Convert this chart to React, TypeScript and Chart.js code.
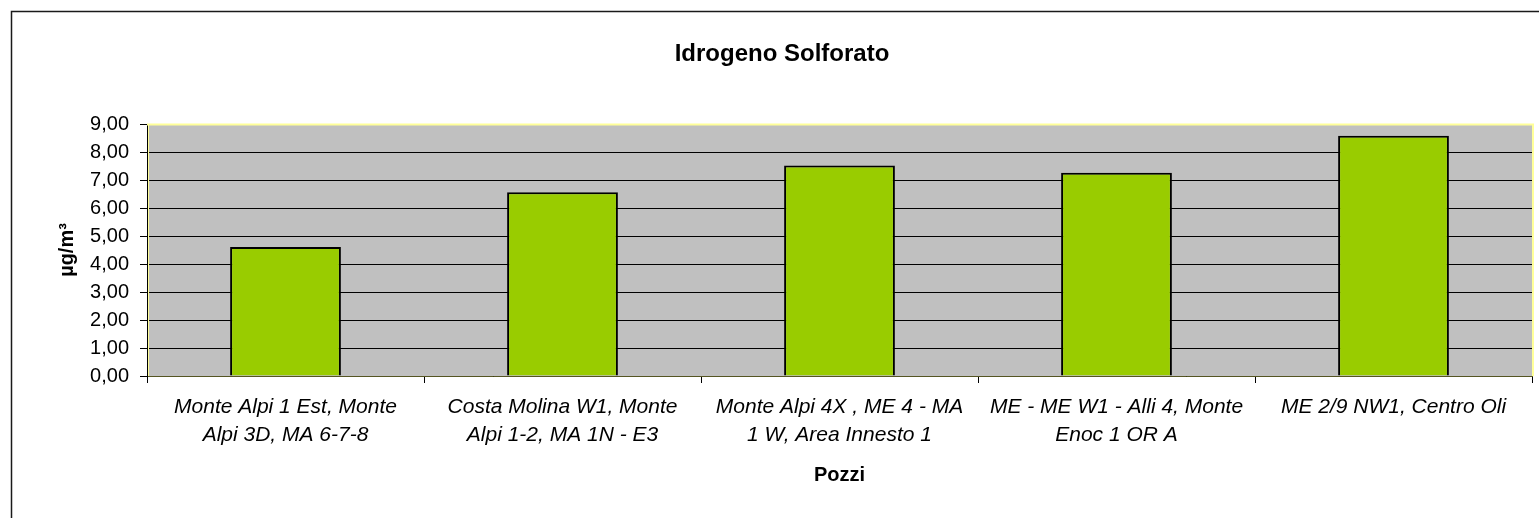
import React, { useEffect, useRef } from "react";
import { Chart, registerables } from "chart.js";

Chart.register(...registerables);

const chartTitle = "Idrogeno Solforato";
const xAxisTitle = "Pozzi";
const yAxisTitle = "µg/m³";

const categories: string[][] = [
  ["Monte Alpi 1 Est, Monte", "Alpi 3D, MA 6-7-8"],
  ["Costa Molina W1, Monte", "Alpi 1-2, MA 1N - E3"],
  ["Monte Alpi 4X , ME 4 - MA", "1 W, Area Innesto 1"],
  ["ME - ME W1 - Alli 4, Monte", "Enoc 1 OR A"],
  ["ME 2/9 NW1, Centro Oli"],
];

const values: number[] = [4.61, 6.56, 7.52, 7.26, 8.58];

const yMin = 0;
const yMax = 9;
const yStep = 1;

const FONT = "'Liberation Sans', Arial, sans-serif";
const W = 1539;
const H = 518;

const decor = {
  id: "decor",
  beforeDraw(chart: any) {
    const { ctx, chartArea: a } = chart;
    ctx.save();
    ctx.fillStyle = "#ffffff";
    ctx.fillRect(0, 0, chart.width, chart.height);
    ctx.fillStyle = "#C0C0C0";
    ctx.fillRect(a.left, a.top, a.right - a.left, a.bottom - a.top);
    ctx.strokeStyle = "#1a1a1a";
    ctx.lineWidth = 1.5;
    ctx.beginPath();
    ctx.moveTo(11.5, chart.height + 10);
    ctx.lineTo(11.5, 11.5);
    ctx.lineTo(chart.width + 10, 11.5);
    ctx.stroke();
    ctx.restore();
  },
  afterDraw(chart: any) {
    const { ctx, chartArea: a } = chart;
    ctx.save();
    ctx.strokeStyle = "#FFFF99";
    ctx.lineWidth = 2;
    ctx.beginPath();
    ctx.moveTo(a.left, a.top + 0.5);
    ctx.lineTo(a.right + 1, a.top + 0.5);
    ctx.lineTo(a.right + 1, a.bottom);
    ctx.stroke();
    ctx.lineWidth = 1;
    ctx.beginPath();
    ctx.moveTo(a.left + 1.5, a.top);
    ctx.lineTo(a.left + 1.5, a.bottom);
    ctx.stroke();
    ctx.restore();
  },
};

export default function App() {
  const ref = useRef<HTMLCanvasElement | null>(null);

  useEffect(() => {
    if (!ref.current) return;
    const chart = new Chart(ref.current, {
      type: "bar",
      data: {
        labels: categories,
        datasets: [
          {
            data: values,
            backgroundColor: "#99CC00",
            borderColor: "#000000",
            borderWidth: 2,
            categoryPercentage: 1,
            barPercentage: 0.4,
          },
        ],
      },
      options: {
        responsive: false,
        animation: false,
        devicePixelRatio: 1,
        color: "#000",
        layout: { padding: { left: 32, right: 7, top: 0, bottom: 0 } },
        plugins: {
          legend: { display: false },
          tooltip: { enabled: false },
          title: {
            display: true,
            text: chartTitle,
            color: "#000",
            font: { family: FONT, size: 24, weight: "bold", lineHeight: 1.2 },
            padding: { top: 39.6, bottom: 55.6 },
          },
        },
        scales: {
          x: {
            offset: true,
            grid: {
              offset: true,
              drawOnChartArea: false,
              drawTicks: true,
              tickLength: 7,
              color: "#000",
              lineWidth: 1,
            },
            border: { display: true, color: "#555522", width: 1 },
            ticks: {
              autoSkip: false,
              maxRotation: 0,
              minRotation: 0,
              padding: 11,
              color: "#000",
              font: { family: FONT, size: 21, style: "italic", lineHeight: 1.3 },
            },
            title: {
              display: true,
              text: xAxisTitle,
              color: "#000",
              font: { family: FONT, size: 20, weight: "bold", lineHeight: 1.2 },
              padding: { top: 0, bottom: 31 },
            },
            afterFit: (scale: any) => {
              scale.height = 142;
            },
          },
          y: {
            min: yMin,
            max: yMax,
            grid: {
              drawTicks: true,
              tickLength: 7,
              color: "#000",
              lineWidth: 1,
            },
            border: { display: true, color: "#000", width: 1 },
            ticks: {
              stepSize: yStep,
              padding: 11,
              color: "#000",
              font: { family: FONT, size: 20 },
              callback: (v: any) => Number(v).toFixed(2).replace(".", ","),
            },
            title: {
              display: true,
              text: yAxisTitle,
              color: "#000",
              font: { family: FONT, size: 20, weight: "bold", lineHeight: 1.2 },
              padding: { top: 23, bottom: 0 },
            },
            afterFit: (scale: any) => {
              scale.width = 115;
            },
          },
        },
      },
      plugins: [decor],
    });
    return () => chart.destroy();
  }, []);

  return (
    <div style={{ position: "absolute", left: 0, top: 0, width: W, height: H }}>
      <canvas ref={ref} width={W} height={H} style={{ width: W, height: H, display: "block" }} />
    </div>
  );
}
